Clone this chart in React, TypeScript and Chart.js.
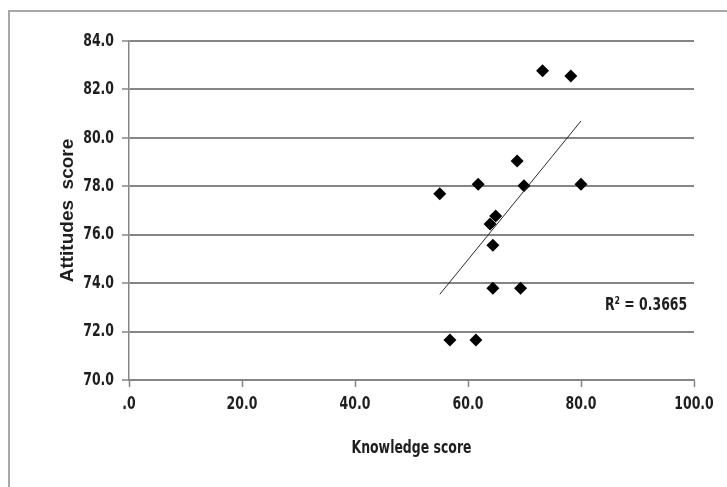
import React, { useEffect, useRef } from 'react';
import { Chart, registerables } from 'chart.js';

Chart.register(...registerables);

// Data
const knowledgeScores = [73.2, 78.2, 68.7, 61.8, 69.9, 80.0, 55.0, 64.9, 63.9, 64.4, 64.4, 69.3, 56.8, 61.4];
const attitudeScores = [82.77, 82.55, 79.04, 78.08, 78.02, 78.08, 77.69, 76.77, 76.44, 75.56, 73.79, 73.79, 71.65, 71.65];

const xTickValues = [0, 20, 40, 60, 80, 100];
const xTickLabels = ['.0', '20.0', '40.0', '60.0', '80.0', '100.0'];
const yTickValues = [70, 72, 74, 76, 78, 80, 82, 84];
const yTickLabels = ['70.0', '72.0', '74.0', '76.0', '78.0', '80.0', '82.0', '84.0'];

const xTitle = 'Knowledge score';
const yTitle = 'Attitudes  score';
const r2Label = 'R\u00B2 = 0.3665';
const r2LabelAt = [98.8, 73.1];

const NARROW = '"DejaVu Sans Condensed", sans-serif';
const NARROW_SCALE = 0.77;
const GRID = '#858585';
const TEXT = '#1e1e1e';

function linearTrend(xs: number[], ys: number[]) {
  const n = xs.length;
  const mx = xs.reduce((a, b) => a + b, 0) / n;
  const my = ys.reduce((a, b) => a + b, 0) / n;
  let sxy = 0;
  let sxx = 0;
  for (let i = 0; i < n; i++) {
    sxy += (xs[i] - mx) * (ys[i] - my);
    sxx += (xs[i] - mx) * (xs[i] - mx);
  }
  const slope = sxy / sxx;
  const intercept = my - slope * mx;
  const x0 = Math.min(...xs);
  const x1 = Math.max(...xs);
  return [
    { x: x0, y: intercept + slope * x0 },
    { x: x1, y: intercept + slope * x1 },
  ];
}

// Horizontally compress text drawn in the condensed family, to mimic the narrow face of the original.
const narrowTextPlugin = {
  id: 'narrowText',
  beforeDraw(chart: any) {
    const ctx = chart.ctx;
    if (ctx.__narrowPatched) return;
    const orig = ctx.fillText.bind(ctx);
    ctx.fillText = (text: string, x: number, y: number, maxWidth?: number) => {
      if (typeof ctx.font === 'string' && ctx.font.indexOf('Condensed') !== -1) {
        ctx.save();
        ctx.translate(x, y);
        ctx.scale(NARROW_SCALE, 1);
        if (maxWidth !== undefined) orig(text, 0, 0, maxWidth / NARROW_SCALE);
        else orig(text, 0, 0);
        ctx.restore();
      } else if (maxWidth !== undefined) {
        orig(text, x, y, maxWidth);
      } else {
        orig(text, x, y);
      }
    };
    ctx.__narrowPatched = true;
  },
};

const r2Plugin = {
  id: 'r2Label',
  afterDatasetsDraw(chart: any) {
    const { ctx, scales } = chart;
    ctx.save();
    ctx.font = `bold 18px ${NARROW}`;
    ctx.fillStyle = TEXT;
    ctx.textAlign = 'right';
    ctx.textBaseline = 'middle';
    ctx.fillText(r2Label, scales.x.getPixelForValue(r2LabelAt[0]), scales.y.getPixelForValue(r2LabelAt[1]));
    ctx.restore();
  },
};

export default function App() {
  const ref = useRef<HTMLCanvasElement>(null);

  useEffect(() => {
    if (!ref.current) return;
    const points = knowledgeScores.map((x, i) => ({ x, y: attitudeScores[i] }));
    const trend = linearTrend(knowledgeScores, attitudeScores);
    const chart = new Chart(ref.current, {
      type: 'scatter',
      data: {
        datasets: [
          {
            type: 'line',
            data: trend,
            borderColor: '#2a2a2a',
            borderWidth: 1,
            pointRadius: 0,
            fill: false,
          } as any,
          {
            data: points,
            pointStyle: 'rectRot',
            pointRadius: 6.5,
            backgroundColor: '#000',
            borderColor: '#000',
            borderWidth: 0,
          },
        ],
      },
      options: {
        animation: false,
        responsive: false,
        events: [],
        layout: { padding: { left: 50, top: 41, right: 33, bottom: 27 } },
        plugins: { legend: { display: false }, tooltip: { enabled: false } },
        scales: {
          x: {
            type: 'linear',
            min: 0,
            max: 100,
            afterFit: (s: any) => { s.height = 80; },
            afterBuildTicks: (s: any) => { s.ticks = xTickValues.map((v) => ({ value: v })); },
            ticks: {
              callback: (v: any) => xTickLabels[xTickValues.indexOf(Number(v))] ?? '',
              font: { family: NARROW, size: 18, weight: 'bold' },
              color: TEXT,
              padding: 7,
              maxRotation: 0,
            },
            grid: { drawOnChartArea: false, drawTicks: true, tickLength: 7, tickColor: GRID, tickWidth: 1.5 },
            border: { display: true, color: GRID, width: 2 },
            title: {
              display: true,
              text: xTitle,
              font: { family: NARROW, size: 18, weight: 'bold' },
              color: TEXT,
              padding: { top: 0, bottom: 1 },
            },
          },
          y: {
            type: 'linear',
            min: 70,
            max: 84,
            afterFit: (s: any) => { s.width = 79; },
            afterBuildTicks: (s: any) => { s.ticks = yTickValues.map((v) => ({ value: v })); },
            ticks: {
              callback: (v: any) => yTickLabels[yTickValues.indexOf(Number(v))] ?? '',
              font: { family: NARROW, size: 18, weight: 'bold' },
              color: TEXT,
              padding: 8,
            },
            grid: { color: GRID, lineWidth: 2, drawTicks: true, tickLength: 7, tickColor: GRID, tickWidth: 1.5 },
            border: { display: true, color: GRID, width: 1.5 },
            title: {
              display: true,
              text: yTitle,
              font: { family: '"Liberation Sans", Arial, sans-serif', size: 19, weight: 'bold' },
              color: TEXT,
              padding: { top: 6, bottom: 0 },
            },
          },
        },
      },
      plugins: [narrowTextPlugin, r2Plugin],
    });
    return () => chart.destroy();
  }, []);

  return (
    <div style={{ position: 'absolute', left: 0, top: 0, width: 727, height: 487, overflow: 'hidden', background: '#fff' }}>
      <div
        style={{
          position: 'absolute',
          left: 8,
          top: 10,
          width: 760,
          height: 520,
          border: '2px solid #a8a8a8',
          boxSizing: 'border-box',
        }}
      />
      <canvas ref={ref} width={727} height={487} style={{ position: 'absolute', left: 0, top: 0 }} />
    </div>
  );
}
